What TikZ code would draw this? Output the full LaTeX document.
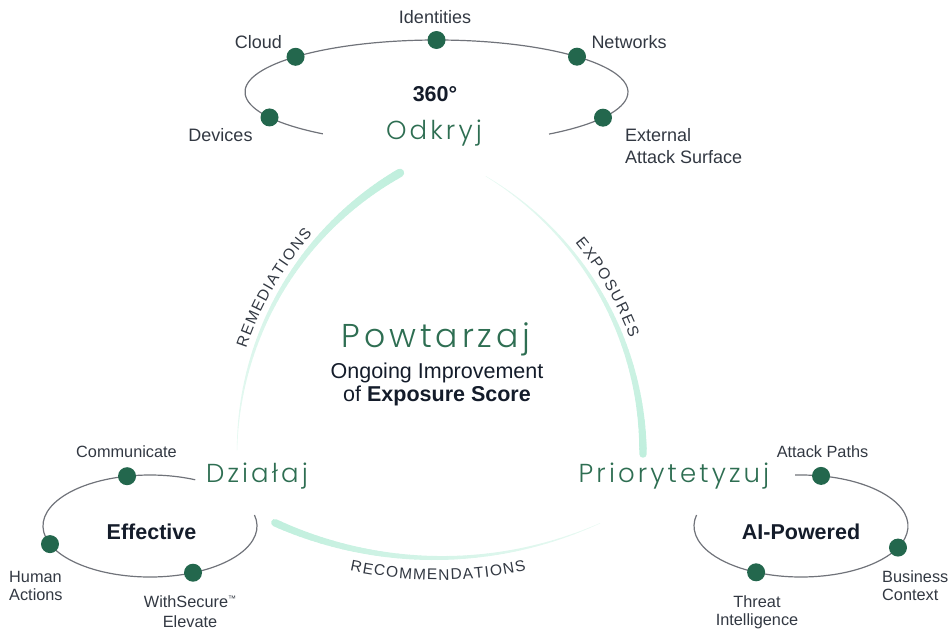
\documentclass[tikz,border=0pt]{standalone}
\usepackage{fontspec}
\setmainfont{Liberation Sans}
\IfFontExistsTF{Poppins Light}{\newfontfamily\thinfont[LetterSpace=12]{Poppins Light}}{\newfontfamily\thinfont[LetterSpace=12]{Poppins}}
\usetikzlibrary{calc,decorations.text}
\definecolor{dotgreen}{RGB}{35,103,77}
\definecolor{txtgreen}{RGB}{46,110,82}
\definecolor{mint}{RGB}{192,239,221}
\definecolor{ringgray}{RGB}{112,115,122}
\definecolor{lbl}{RGB}{50,56,66}
\definecolor{navy}{RGB}{20,28,42}
\newcommand{\mintarc}[6]{%
 \foreach \i in {1,...,60}{%
  \pgfmathsetmacro{\ta}{#3+(#4-#3)*(\i-1)/60}%
  \pgfmathsetmacro{\tb}{#3+(#4-#3)*\i/60}%
  \pgfmathsetmacro{\w}{#5+(#6-#5)*(\i-0.5)/60}%
  \pgfmathsetmacro{\k}{100-65*(\i-0.5)/60}%
  \draw[line width=\w pt,line cap=round,draw=mint!\k!white] ($(#1)+(\ta:#2)$) -- ($(#1)+(\tb:#2)$);
 }}
\begin{document}
\begin{tikzpicture}[x=1pt,y=-1pt,
  dotn/.style={circle,fill=dotgreen,inner sep=0pt,minimum size=18pt},
  labtop/.style={font=\fontsize{18}{22}\selectfont,text=lbl,inner sep=0pt},
  labbot/.style={font=\fontsize{16.3}{18}\selectfont,text=lbl,inner sep=0pt},
  hub/.style={font=\fontsize{21.5}{25}\selectfont\bfseries,text=navy,inner sep=0pt},
  phase/.style={font=\thinfont\fontsize{26}{30}\selectfont,text=txtgreen,inner sep=0pt},
  ring/.style={draw=ringgray,line width=1.2pt},
  arclabel/.style={decorate,decoration={text along path,text align=fit to path,
     text={|\fontsize{15.5}{18}\selectfont\color{lbl}|#1}}},
]
\useasboundingbox (0,0) rectangle (952,629);

% centres
\coordinate (ctop) at (436.5,92);
\coordinate (cleft) at (150,526);
\coordinate (cright) at (801,526);
\coordinate (cL) at (561,454);
\coordinate (cR) at (319,454);
\coordinate (cB) at (438,163);

% mint cycle arcs
\mintarc{cL}{324}{240.2}{180.7}{8.5}{0.4}
\mintarc{cR}{324}{360}{301}{7.5}{0.4}
\mintarc{cB}{395}{114.4}{65.8}{7.5}{0.4}

\path[arclabel=REMEDIATIONS] ($(cL)+(198.5:332)$) arc[start angle=198.5,end angle=221.5,radius=332];
\path[arclabel=EXPOSURES] ($(cR)+(320.5:332)$) arc[start angle=320.5,end angle=339.5,radius=332];
\path[arclabel=RECOMMENDATIONS] ($(cB)+(102.2:417)$) arc[start angle=102.2,end angle=77.8,radius=417];

% rings
\draw[ring] ($(ctop)+(126.4:191.5 and 52)$) arc[start angle=126.4,end angle=414,x radius=191.5,y radius=52];
\draw[ring] ($(cleft)+(-12.5:107 and 51)$) arc[start angle=-12.5,end angle=295,x radius=107,y radius=51];
\draw[ring] ($(cright)+(266.8:107 and 51)$) arc[start angle=266.8,end angle=552.5,x radius=107,y radius=51];

% dots
\node[dotn] (dId) at ($(ctop)+(270:191.5 and 52)$) {};
\node[dotn] (dCloud) at ($(ctop)+(222.6:191.5 and 52)$) {};
\node[dotn] (dNet) at ($(ctop)+(317.2:191.5 and 52)$) {};
\node[dotn] (dDev) at ($(ctop)+(150.7:191.5 and 52)$) {};
\node[dotn] (dExt) at ($(ctop)+(29.6:191.5 and 52)$) {};
\node[dotn] (dCom) at ($(cleft)+(257.6:107 and 51)$) {};
\node[dotn] (dHum) at ($(cleft)+(159.2:107 and 51)$) {};
\node[dotn] (dWith) at ($(cleft)+(66.3:107 and 51)$) {};
\node[dotn] (dAtt) at ($(cright)+(280.8:107 and 51)$) {};
\node[dotn] (dBus) at ($(cright)+(25:107 and 51)$) {};
\node[dotn] (dThr) at ($(cright)+(114.8:107 and 51)$) {};

% top labels
\node[labtop,anchor=base] (tId) at (435,23.5) {Identities};
\node[labtop,anchor=base] (tCloud) at (258.5,48.5) {Cloud};
\node[labtop,anchor=base] (tNet) at (629,48.5) {Networks};
\node[labtop,anchor=base] (tDev) at (220.5,141.5) {Devices};
\node[labtop,anchor=base west,align=left] (tExt) at (625,163.5) {External\\Attack Surface};
\node[hub,anchor=base] (h360) at (435,101.5) {360°};
\node[phase,anchor=base] (odkryj) at (434,139.5) {Odkryj};

% left cluster
\node[labbot,anchor=base] (tCom) at (126.5,457) {Communicate};
\node[labbot,anchor=base west,align=left] (tHum) at (9,600) {Human\\Actions};
\node[labbot,anchor=base,align=center] (tWith) at (190,627) {WithSecure\raisebox{6pt}{\fontsize{8}{8}\selectfont ™}\\[1.5pt]Elevate};
\node[hub,anchor=base] (hEff) at (151.5,539.5) {Effective};
\node[phase,anchor=base] (dzialaj) at (257,482) {Działaj};

% right cluster
\node[labbot,anchor=base] (tAtt) at (822.5,457) {Attack Paths};
\node[labbot,anchor=base west,align=left] (tBus) at (882,600) {Business\\Context};
\node[labbot,anchor=base,align=center] (tThr) at (757,625) {Threat\\Intelligence};
\node[hub,anchor=base] (hAI) at (801,539.5) {AI-Powered};
\node[phase,anchor=base] (prior) at (674,482) {Priorytetyzuj};

% centre
\node[phase,font=\thinfont\fontsize{33}{36}\selectfont,anchor=base] (powt) at (436,347) {Powtarzaj};
\node[font=\fontsize{21.5}{23}\selectfont,text=navy,anchor=base,align=center,inner sep=0pt] (ongo) at (437,401)
  {Ongoing Improvement\\of \textbf{Exposure Score}};
\end{tikzpicture}
\end{document}
